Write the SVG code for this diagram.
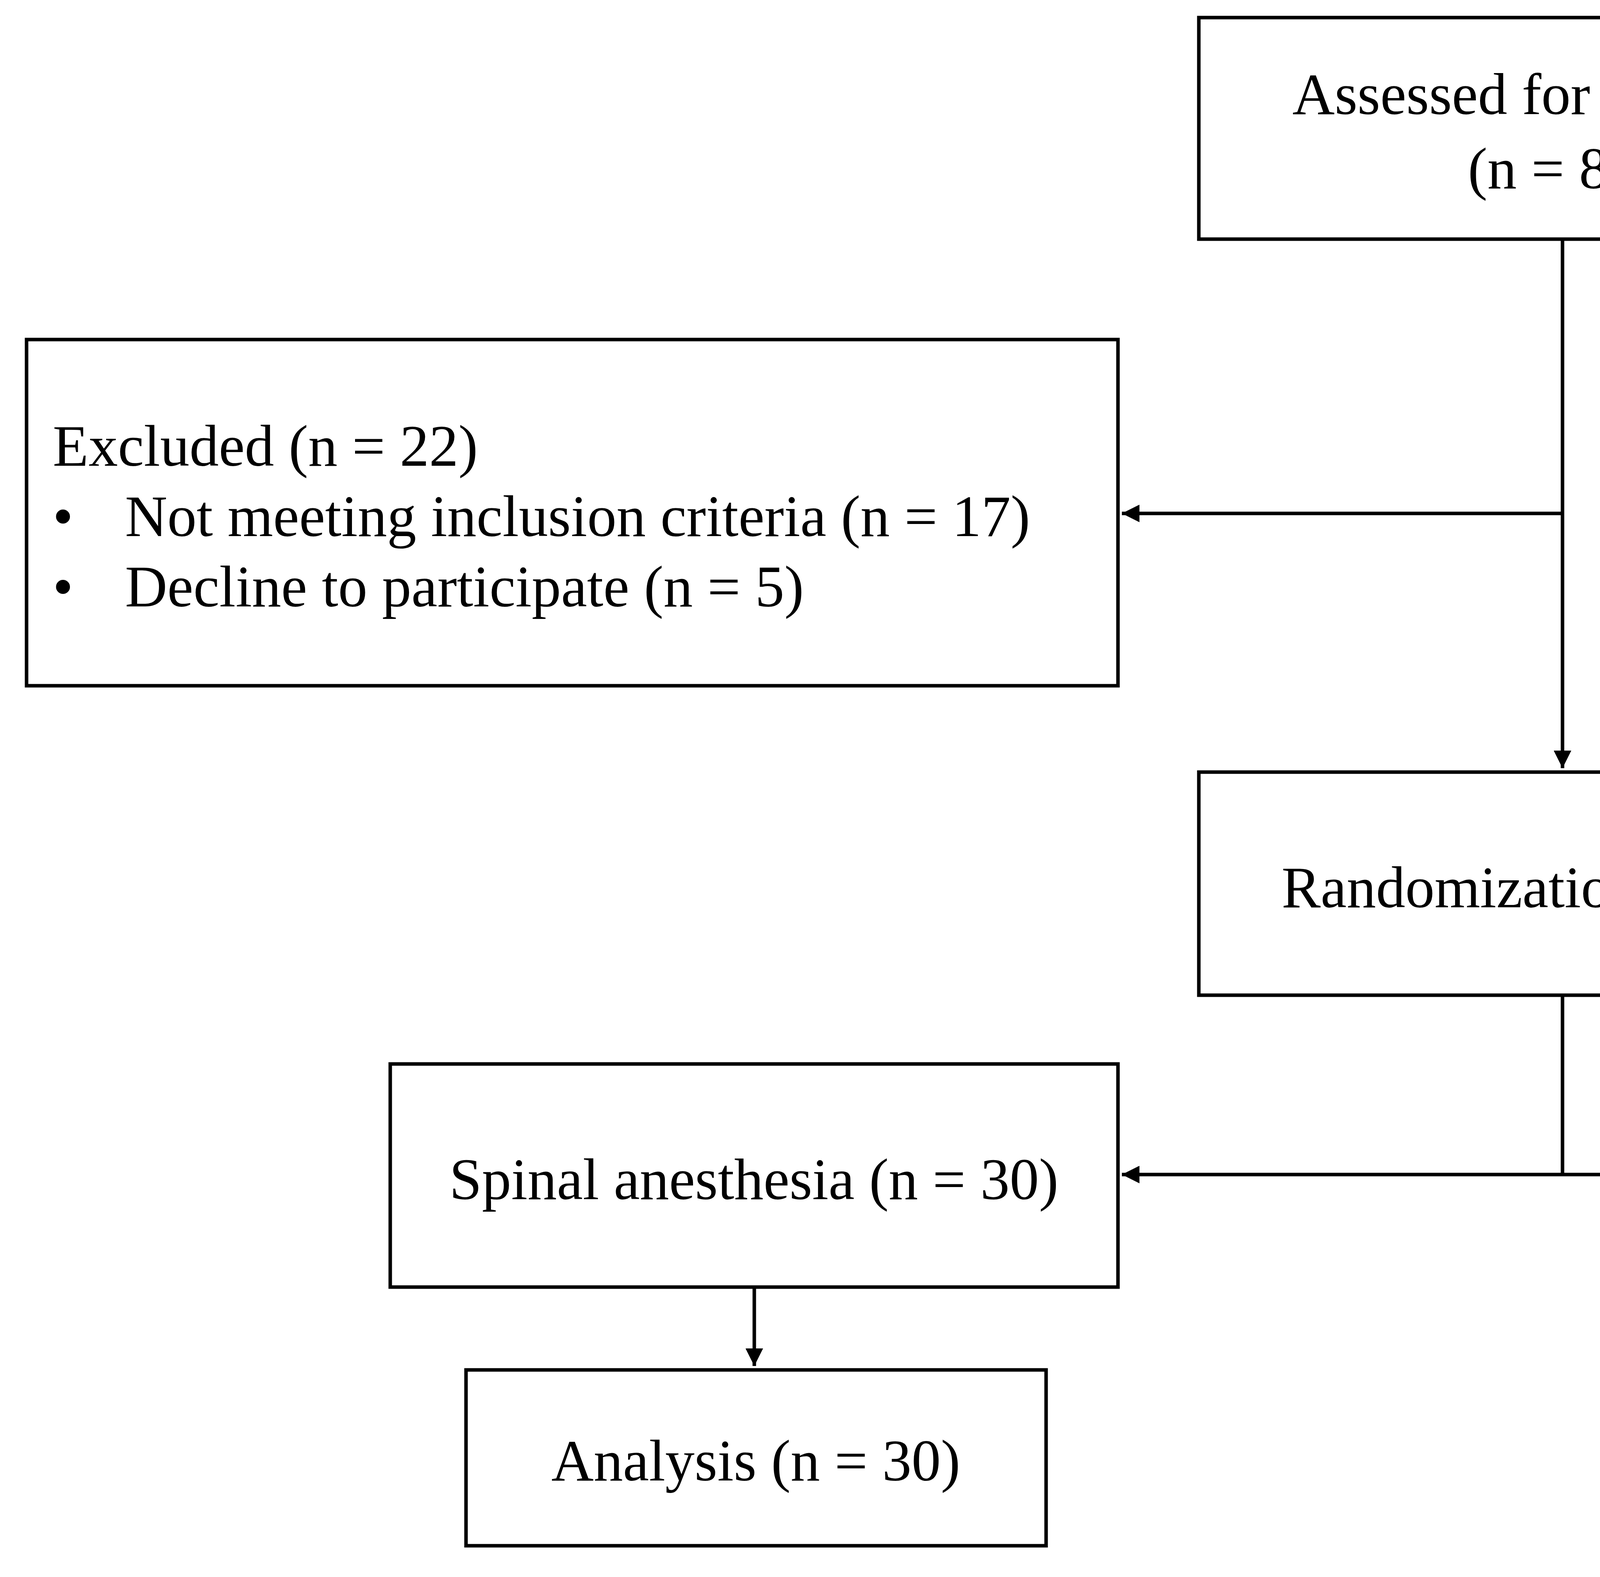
<svg xmlns="http://www.w3.org/2000/svg" width="7056" height="4036" viewBox="0 0 7056 4036">
<style>
rect{fill:#fff;stroke:#000;stroke-width:9}
text{font-family:"Liberation Serif","Times New Roman",serif;font-size:150px;fill:#000}
.c{text-anchor:middle}
.ln{stroke:#000;stroke-width:9;fill:none}
</style>
<defs><marker id="a" viewBox="0 0 10 10" refX="10" refY="5" markerWidth="5" markerHeight="5" orient="auto" markerUnits="strokeWidth"><path d="M0,0L10,5L0,10z" fill="#000"/></marker></defs>
<rect width="7056" height="4036" style="stroke:none"/>
<g id="connectors">
<path class="ln" d="M4000,612V1966" marker-end="url(#a)"/>
<path class="ln" d="M4000,1314H2872" marker-end="url(#a)"/>
<path class="ln" d="M4000,2547V3006"/>
<path class="ln" d="M4000,3006H2872" marker-end="url(#a)"/>
<path class="ln" d="M4000,3006H5129" marker-end="url(#a)"/>
<path class="ln" d="M1931,3294V3496" marker-end="url(#a)"/>
<path class="ln" d="M6071,3294V3496" marker-end="url(#a)"/>
</g>
<g id="assessed"><rect x="3069" y="45" width="1863" height="567"/><text class="c" x="4000" y="292">Assessed for eligibility</text><text class="c" x="4000" y="482">(n = 82)</text></g>
<g id="excluded"><rect x="68" y="869" width="2794" height="886"/><text x="135" y="1192">Excluded (n = 22)</text><text x="135" y="1372">•</text><text x="320" y="1372">Not meeting inclusion criteria (n = 17)</text><text x="135" y="1552">•</text><text x="320" y="1552">Decline to participate (n = 5)</text></g>
<g id="randomization"><rect x="3069" y="1976" width="1863" height="571"/><text class="c" x="4000" y="2322">Randomization (n = 60)</text></g>
<g id="spinal"><rect x="999" y="2723" width="1863" height="571"/><text class="c" x="1930" y="3069">Spinal anesthesia (n = 30)</text></g>
<g id="general"><rect x="5139" y="2723" width="1868" height="571"/><text class="c" x="6073" y="3069">General anesthesia (n = 30)</text></g>
<g id="analysisL"><rect x="1193" y="3506" width="1485" height="450"/><text class="c" x="1935" y="3789">Analysis (n = 30)</text></g>
<g id="analysisR"><rect x="5324" y="3506" width="1480" height="450"/><text class="c" x="6064" y="3789">Analysis (n = 30)</text></g>
</svg>
